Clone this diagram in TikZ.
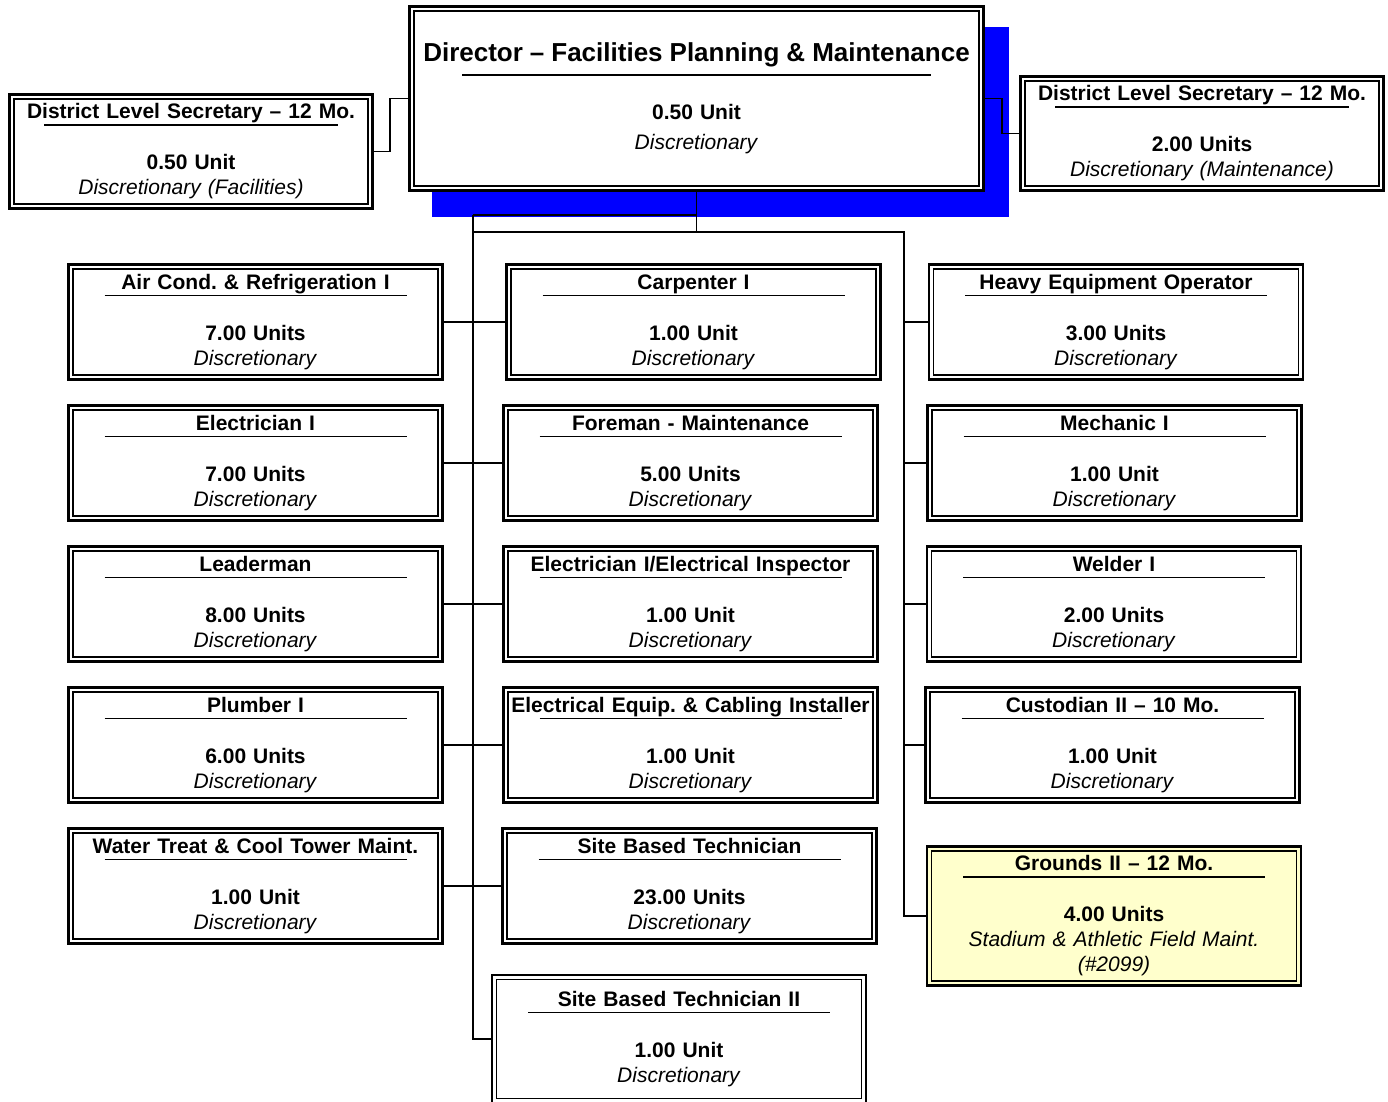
\documentclass[tikz,border=0pt]{standalone}
\usepackage{fontspec}
\setmainfont{Liberation Sans}
\usetikzlibrary{calc}
\frenchspacing

\definecolor{paleyellow}{RGB}{255,255,204}

% box text: title, rule, units, remark
\newcommand{\jobtext}[4][302pt]{\textbf{#2}\\[-18pt]\rule{#1}{1.6pt}\\[19pt]\textbf{#3}\\\textit{#4}}

\tikzset{
  jobbox/.style={draw, line width=2.6pt, fill=white, inner sep=0pt,
    minimum width=374pt, minimum height=115pt, text width=368pt, align=center,
    font=\fontsize{21}{25}\selectfont,
    path picture={\draw[line width=1.3pt]
      ([xshift=4.4pt,yshift=-4.4pt]path picture bounding box.north west) rectangle
      ([xshift=-4.4pt,yshift=4.4pt]path picture bounding box.south east);}},
  link/.style={line width=1.8pt}
}

\begin{document}
\begin{tikzpicture}[x=1pt,y=-1pt]
            \useasboundingbox (0,0) rectangle (1388,1101);
            \clip (0,0) rectangle (1388,1101);

            % Draw the shadow of the director box
            \fill[blue] (432,27) rectangle (1009,217);

            % Director and secretaries
            \node[jobbox, minimum width=574pt, minimum height=184pt, text width=560pt,
                  font=\fontsize{21}{30}\selectfont] (dir) at (696.5,98.5)
                {{\fontsize{26}{30}\selectfont\textbf{Director – Facilities Planning \& Maintenance}}\\[-16pt]\rule{469pt}{1.6pt}\\[14pt]\textbf{0.50 Unit}\\\textit{Discretionary}};
            \node[jobbox, minimum width=363pt, minimum height=114pt, text width=356pt] (secL) at (191,151.5)
                {\jobtext[294pt]{District Level Secretary – 12 Mo.}{0.50 Unit}{Discretionary (Facilities)}};
            \node[jobbox, minimum width=363pt, minimum height=114pt, text width=356pt] (secR) at (1202,133.5)
                {\jobtext[294pt]{District Level Secretary – 12 Mo.}{2.00 Units}{Discretionary (Maintenance)}};

            % Left column
            \node[jobbox] (aircond) at (255.5,322) {\jobtext{Air Cond. \& Refrigeration I}{7.00 Units}{Discretionary}};
            \node[jobbox] (elec)    at (255.5,463) {\jobtext{Electrician I}{7.00 Units}{Discretionary}};
            \node[jobbox] (leader)  at (255.5,604) {\jobtext{Leaderman}{8.00 Units}{Discretionary}};
            \node[jobbox] (plumb)   at (255.5,745) {\jobtext{Plumber I}{6.00 Units}{Discretionary}};
            \node[jobbox] (water)   at (255.5,886) {\jobtext{Water Treat \& Cool Tower Maint.}{1.00 Unit}{Discretionary}};

            % Middle column
            \node[jobbox] (carp)     at (693.5,322) {\jobtext{Carpenter I}{1.00 Unit}{Discretionary}};
            \node[jobbox] (foreman)  at (690.5,463) {\jobtext{Foreman - Maintenance}{5.00 Units}{Discretionary}};
            \node[jobbox] (elecinsp) at (690.5,604) {\jobtext{Electrician I/Electrical Inspector}{1.00 Unit}{Discretionary}};
            \node[jobbox] (cabling)  at (690.5,745) {\jobtext{Electrical Equip. \& Cabling Installer}{1.00 Unit}{Discretionary}};
            \node[jobbox] (sbt)      at (689.5,886) {\jobtext{Site Based Technician}{23.00 Units}{Discretionary}};
            \node[jobbox, minimum height=128pt] (sbt2) at (679,1039) {\jobtext{Site Based Technician II}{1.00 Unit}{Discretionary}};

            % Right column
            \node[jobbox] (heavy)  at (1116,322)   {\jobtext{Heavy Equipment Operator}{3.00 Units}{Discretionary}};
            \node[jobbox] (mech)   at (1114.5,463) {\jobtext{Mechanic I}{1.00 Unit}{Discretionary}};
            \node[jobbox] (welder) at (1114,604)   {\jobtext{Welder I}{2.00 Units}{Discretionary}};
            \node[jobbox] (cust)   at (1112.5,745) {\jobtext{Custodian II – 10 Mo.}{1.00 Unit}{Discretionary}};
            \node[jobbox, fill=paleyellow, minimum height=139pt] (grounds) at (1114,916)
                {\jobtext{Grounds II – 12 Mo.}{4.00 Units}{Stadium \& Athletic Field Maint.}\\\textit{(\#2099)}};

            % Draw the connectors
            \coordinate (jog)  at (473,215);
            \coordinate (busL) at (473,232);
            \coordinate (busR) at (904,232);
            \draw[link] (dir.west) -- ++(-18,0) |- (secL.east);
            \draw[link] (dir.east) -- ++(17,0) |- (secR.west);
            \draw[link] (dir.south) -- (dir.south |- busL);
            \draw[link] (jog) -- (jog -| dir.south);
            \draw[link] (busL) -- (busR) |- (grounds.west);
            \draw[link] (jog) |- (sbt2.west);

            \draw[link] (aircond.east) -- (carp.west);
            \draw[link] (elec.east) -- (foreman.west);
            \draw[link] (leader.east) -- (elecinsp.west);
            \draw[link] (plumb.east) -- (cabling.west);
            \draw[link] (water.east) -- (sbt.west);

            \draw[link] (busR |- heavy.west) -- (heavy.west);
            \draw[link] (busR |- mech.west) -- (mech.west);
            \draw[link] (busR |- welder.west) -- (welder.west);
            \draw[link] (busR |- cust.west) -- (cust.west);
\end{tikzpicture}
\end{document}
